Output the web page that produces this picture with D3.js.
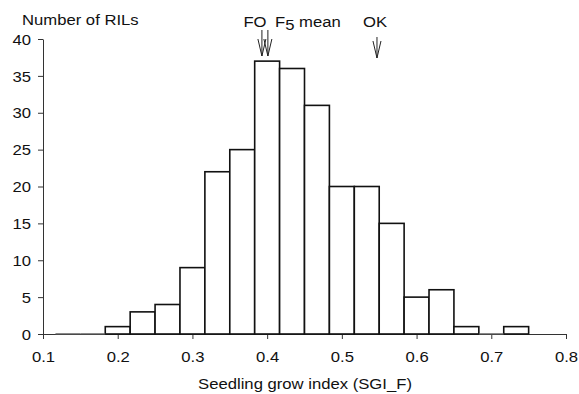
<!DOCTYPE html>
<meta charset="utf-8">
<style>
body{margin:0;background:#fff;}
text{font-family:"Liberation Sans",Arial,sans-serif;fill:#111;}
.axis path,.axis line{stroke:#333;stroke-width:1px;}
.bar{fill:#fff;stroke:#111;stroke-width:1.6px;}
</style>
<body>
<script src="https://cdnjs.cloudflare.com/ajax/libs/d3/7.8.5/d3.min.js"></script>
<script>

// histogram bins of width 1/30, lower edges
var binStart = 0.1 + 0.5/30;
var binWidth = 1/30;
var counts = [0,0,1,3,4,9,22,25,37,36,31,20,20,15,5,6,1,0,1];

var xTicks = [0.1,0.2,0.3,0.4,0.5,0.6,0.7,0.8];
var yTicks = [0,5,10,15,20,25,30,35,40];

var arrowLabels = ["FO","F5 mean","OK"];
var arrowPos = [0.393,0.401,0.547];

var fs = 14.5, sx = 1.15;   // the original type is a bit wide

var svg = d3.select("body").append("svg").attr("width",579).attr("height",394);

var x = d3.scaleLinear().domain([0.1,0.8]).range([43,566]);
var y = d3.scaleLinear().domain([0,40]).range([334,39]);

var bins = counts.map(function(c,i){
    var x0 = binStart + i*binWidth;
    return {x0:x0, x1:x0+binWidth, n:c};
});

// x axis
svg.append("g").attr("class","axis")
    .attr("transform","translate(0,334)")
    .call(d3.axisBottom(x).tickValues(xTicks).tickSize(5).tickSizeOuter(0).tickFormat(d3.format(".1f")))
    .call(function(g){
        g.selectAll("text").attr("y",0).attr("dy",0)
            .attr("transform","translate(0,28) scale("+sx+",1)")
            .style("font-size",fs+"px").attr("fill","#111");
    });

// y axis
svg.append("g").attr("class","axis")
    .attr("transform","translate(43,0)")
    .call(d3.axisLeft(y).tickValues(yTicks).tickSize(5).tickSizeOuter(0))
    .call(function(g){
        g.selectAll("text").attr("x",0).attr("dy","0.36em")
            .attr("transform","translate(-12,0) scale("+sx+",1)")
            .style("font-size",fs+"px").attr("fill","#111");
    });

// bars
svg.selectAll(".bar").data(bins.filter(function(d){return d.n>0;})).enter()
    .append("rect").attr("class","bar")
    .attr("x",function(d){return x(d.x0);})
    .attr("width",function(d){return x(d.x1)-x(d.x0);})
    .attr("y",function(d){return y(d.n);})
    .attr("height",function(d){return y(0)-y(d.n);});

// empty bins drawn as a flat line
svg.selectAll(".zero").data(bins.filter(function(d){return d.n==0;})).enter()
    .append("line")
    .attr("x1",function(d){return x(d.x0);})
    .attr("x2",function(d){return x(d.x1);})
    .attr("y1",y(0)).attr("y2",y(0))
    .attr("stroke","#555").attr("stroke-width",1.4);

function label(tx, ty, anchor){
    return svg.append("text")
        .attr("transform","translate("+tx+","+ty+") scale("+sx+",1)")
        .attr("text-anchor",anchor).style("font-size",fs+"px");
}

label(22,25,"start").text("Number of RILs");
label(305,389,"middle").text("Seedling grow index (SGI_F)");

// arrows
function arrow(px, top, tip){
    var p = d3.path();
    p.moveTo(px, top); p.lineTo(px, tip);
    p.moveTo(px-4, tip-17); p.lineTo(px, tip); p.lineTo(px+4, tip-17);
    svg.append("path").attr("d",p.toString()).attr("fill","none")
        .attr("stroke","#222").attr("stroke-width",1);
}
arrow(x(arrowPos[0]), 30, 56);
arrow(x(arrowPos[1]), 30, 56);
arrow(x(arrowPos[2]), 37, 58);

label(255,27,"middle").text(arrowLabels[0]);
var f5 = label(275,27,"start");
f5.append("tspan").text("F");
f5.append("tspan").attr("dy",3).text("5");
f5.append("tspan").attr("dy",-3).text(" mean");
label(375,27,"middle").text(arrowLabels[2]);

</script>
</body>
</html>
